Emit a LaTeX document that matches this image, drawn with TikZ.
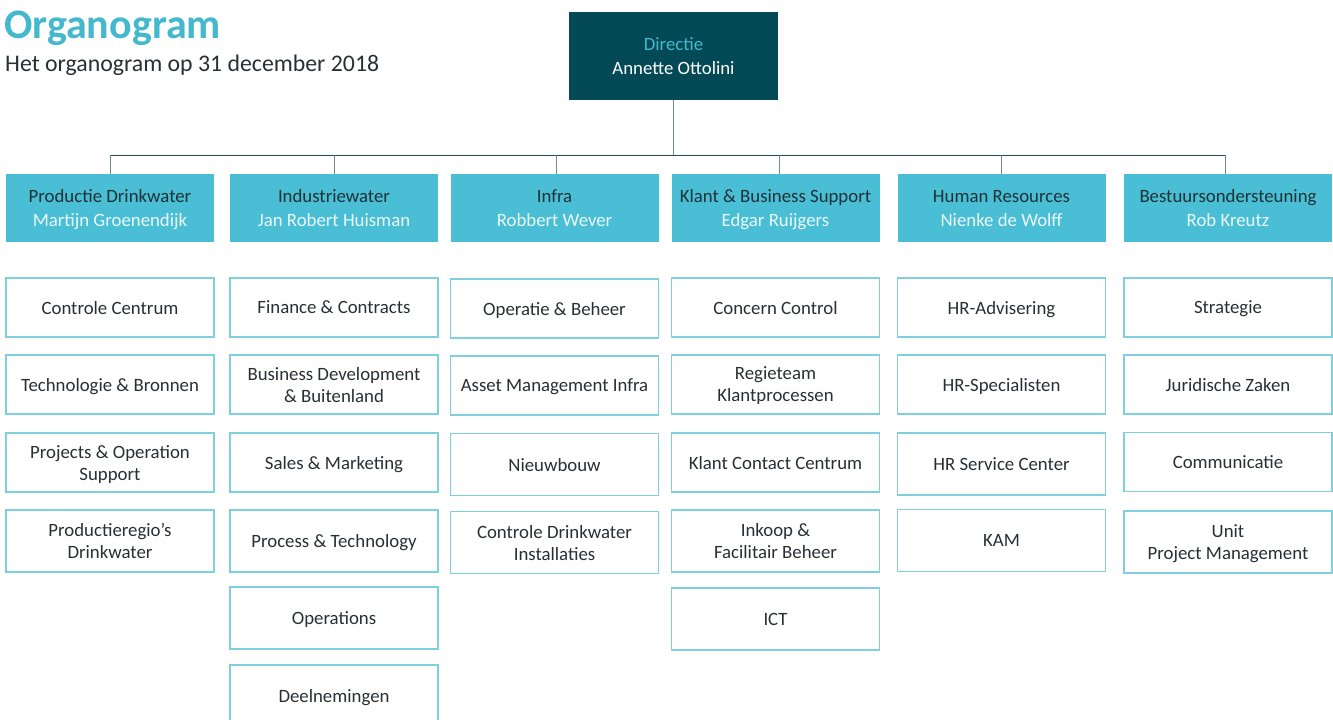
\documentclass[tikz,border=0pt]{standalone}
\usepackage{fontspec}
\setmainfont{Carlito}
\definecolor{darkteal}{HTML}{034A56}
\definecolor{cyanfill}{HTML}{4ABED4}
\definecolor{cyantext}{HTML}{44B8CC}
\definecolor{darktext}{HTML}{2A2F33}
\definecolor{headtext}{HTML}{1E3238}
\definecolor{paletext}{HTML}{EAF8FB}
\definecolor{outline}{HTML}{7ED0DE}
\definecolor{busline}{HTML}{1E4C55}
\definecolor{dropline}{HTML}{6E8C93}
\tikzset{
  dirbox/.style={fill=darkteal, draw=none, minimum width=209pt, minimum height=88pt, align=center, inner sep=0pt, text depth=-5pt, font=\fontsize{18.8}{24.4}\selectfont},
  headbox/.style={fill=cyanfill, draw=none, minimum width=208pt, minimum height=68pt, align=center, inner sep=0pt, text depth=-8.5pt, font=\fontsize{18.8}{24}\selectfont},
  unitbox/.style={fill=white, draw=outline, line width=1.1pt, minimum width=208pt, minimum height=59pt, align=center, inner sep=0pt, text depth=-5.5pt, text=darktext, font=\fontsize{18.8}{22}\selectfont},
  tallbox/.style={unitbox, minimum height=62pt},
  two/.style={text depth=-3.4pt},
  bus/.style={draw=busline, line width=1pt},
  drop/.style={draw=dropline, line width=1pt}
}
\begin{document}
\begin{tikzpicture}[x=1pt,y=-1pt]
\useasboundingbox[fill=white] (0,0) rectangle (1333,720);
\clip (0,0) rectangle (1333,720);
% title
\node[anchor=base west, inner sep=0pt, text=cyantext, font=\fontsize{42}{42}\selectfont\bfseries] (title) at (4,38) {Organogram};
\node[anchor=base west, inner sep=0pt, text=darktext, font=\fontsize{23.8}{23.8}\selectfont] (subtitle) at (5,71) {Het organogram op 31 december 2018};
% director
\node[dirbox] (dir) at (673.5,56) {\textcolor{cyantext}{Directie}\\\textcolor{white}{Annette Ottolini}};
% heads
\node[headbox] (h1) at (110,208) {\textcolor{headtext}{Productie Drinkwater}\\\textcolor{paletext}{Martijn Groenendijk}};
\node[headbox] (h2) at (334,208) {\textcolor{headtext}{Industriewater}\\\textcolor{paletext}{Jan Robert Huisman}};
\node[headbox] (h3) at (554.5,208) {\textcolor{headtext}{Infra}\\\textcolor{paletext}{Robbert Wever}};
\node[headbox] (h4) at (775.5,208) {\textcolor{headtext}{Klant \& Business Support}\\\textcolor{paletext}{Edgar Ruijgers}};
\node[headbox] (h5) at (1001.5,208) {\textcolor{headtext}{Human Resources}\\\textcolor{paletext}{Nienke de Wolff}};
\node[headbox] (h6) at (1228,208) {\textcolor{headtext}{Bestuursondersteuning}\\\textcolor{paletext}{Rob Kreutz}};
% connectors
\coordinate (busL) at (111,155);
\coordinate (busR) at (1225,155);
\draw[drop] (dir.south) -- (dir.south |- busL);
\draw[bus] (busL) -- (busR);
\draw[drop] (h1.north) -- (h1.north |- busL);
\draw[drop] (h2.north) -- (h2.north |- busL);
\draw[drop] ([xshift=1.5pt]h3.north) -- ([xshift=1.5pt]h3.north |- busL);
\draw[drop] ([xshift=3.5pt]h4.north) -- ([xshift=3.5pt]h4.north |- busL);
\draw[drop] (h5.north) -- (h5.north |- busL);
\draw[drop] (busR) -- (busR |- h6.north);
% column 1
\node[unitbox] (u11) at (110,307.5) {Controle Centrum};
\node[unitbox] (u12) at (110,384.5) {Technologie \& Bronnen};
\node[unitbox,two] (u13) at (110,462.5) {Projects \& Operation\\Support};
\node[tallbox,two] (u14) at (110,541) {Productieregio’s\\Drinkwater};
% column 2
\node[unitbox] (u21) at (334,307.5) {Finance \& Contracts};
\node[unitbox,two] (u22) at (334,384.5) {Business Development\\\& Buitenland};
\node[unitbox] (u23) at (334,462.5) {Sales \& Marketing};
\node[tallbox] (u24) at (334,541) {Process \& Technology};
\node[tallbox] (u25) at (334,618) {Operations};
\node[tallbox] (u26) at (334,696) {Deelnemingen};
% column 3
\node[unitbox] (u31) at (554.5,308.5) {Operatie \& Beheer};
\node[unitbox] (u32) at (554.5,385.5) {Asset Management Infra};
\node[tallbox] (u33) at (554.5,464.5) {Nieuwbouw};
\node[tallbox,two] (u34) at (554.5,542.5) {Controle Drinkwater\\Installaties};
% column 4
\node[unitbox] (u41) at (775.5,307.5) {Concern Control};
\node[unitbox,two] (u42) at (775.5,384.5) {Regieteam\\Klantprocessen};
\node[unitbox] (u43) at (775.5,462.5) {Klant Contact Centrum};
\node[tallbox,two] (u44) at (775.5,541) {Inkoop \&\\Facilitair Beheer};
\node[tallbox] (u45) at (775.5,619) {ICT};
% column 5
\node[unitbox] (u51) at (1001.5,307.5) {HR-Advisering};
\node[unitbox] (u52) at (1001.5,384.5) {HR-Specialisten};
\node[tallbox] (u53) at (1001.5,464) {HR Service Center};
\node[tallbox] (u54) at (1001.5,540.5) {KAM};
% column 6
\node[unitbox] (u61) at (1228,307.5) {Strategie};
\node[unitbox] (u62) at (1228,384.5) {Juridische Zaken};
\node[unitbox] (u63) at (1228,462) {Communicatie};
\node[tallbox,two] (u64) at (1228,542) {Unit\\Project Management};
\end{tikzpicture}
\end{document}
